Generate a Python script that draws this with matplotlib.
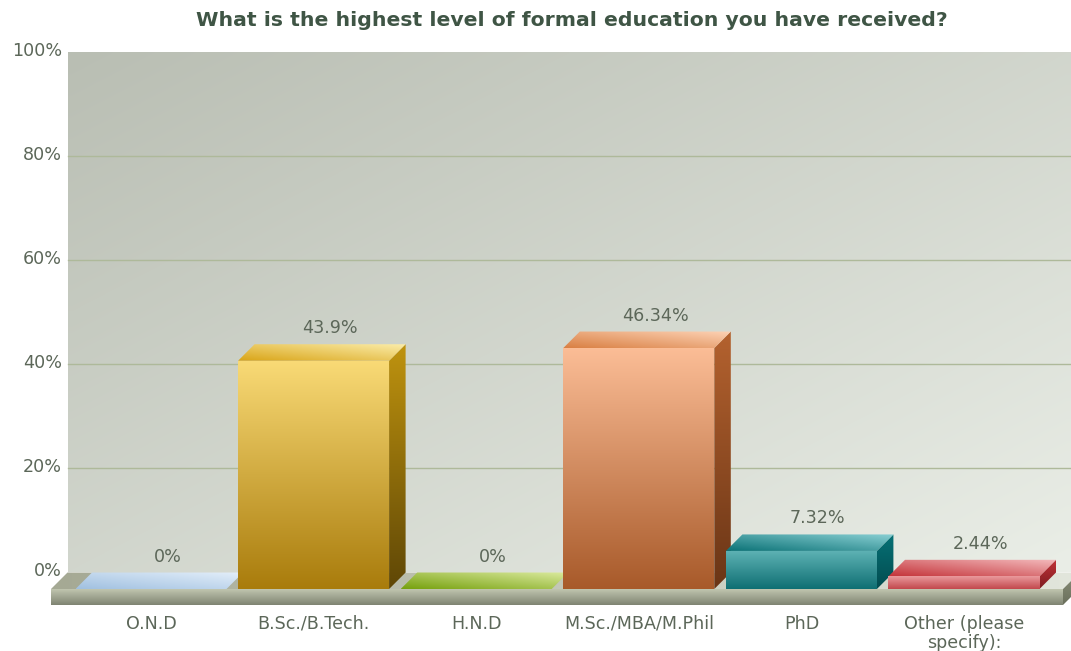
#!/usr/bin/env python3
"""3D-style column chart of survey answers on formal education."""

import matplotlib
matplotlib.use("Agg")
import matplotlib.pyplot as plt
import numpy as np
from matplotlib.colors import to_rgb
from matplotlib.patches import Polygon

plt.rcParams["font.family"] = ["DejaVu Sans"]

categories = ["O.N.D", "B.Sc./B.Tech.", "H.N.D", "M.Sc./MBA/M.Phil", "PhD", "Other (please\nspecify):"]
values = [0, 43.9, 0, 46.34, 7.32, 2.44]
value_labels = ["0%", "43.9%", "0%", "46.34%", "7.32%", "2.44%"]
y_ticks = [0, 20, 40, 60, 80, 100]

# front top, front bottom, side top, side bottom, cap left, cap right
bar_colors = [
    ("#c9dcef", "#a9c6e4", "#8fb0d0", "#7090b0", "#a0c0e0", "#e4effa"),
    ("#f9da76", "#a97c0c", "#bf930f", "#5f4706", "#d9a416", "#fbedaa"),
    ("#bcd67a", "#8fb02a", "#7f9c20", "#5f7a12", "#75a00c", "#dcebA0"),
    ("#fbbd96", "#a85a2a", "#b4622f", "#6a3516", "#d97f42", "#fdd3b6"),
    ("#5fb3b5", "#0f6f73", "#067176", "#034c50", "#0b7276", "#8ad0d4"),
    ("#ea9a9d", "#c2484c", "#c23238", "#7d1c20", "#c4343a", "#f4bcbe"),
]

PX_X = 162.6      # pixels per category
PX_Y = 5.2        # pixels per percentage point
X0 = 151.0        # pixel centre of the first column
Y0 = 589.0        # pixel row of the front floor edge
BAR_W = 151.0 / PX_X
DX = 16.5 / PX_X  # depth offset, data units
DY = 16.5 / PX_Y
WALL_Y = 17.5 / PX_Y  # rise of the back wall above the front plane

TEXT = "#5c6759"
FS = 12.6


def px(x_pix, y_pix):
    return (x_pix - X0) / PX_X, (Y0 - y_pix) / PX_Y


def shaded(ax, pts, start, end, direction="v", zorder=2):
    """Fill a polygon with a linear gradient, clipped to its outline."""
    pts = np.asarray(pts, dtype=float)
    n = 128
    t = np.linspace(0.0, 1.0, n)
    c0, c1 = np.array(to_rgb(start)), np.array(to_rgb(end))
    if direction == "v":
        tt = np.tile(t[:, None], (1, n))
    elif direction == "h":
        tt = np.tile(t[None, :], (n, 1))
    elif direction == "a":
        tt = (t[::-1, None] + t[None, :]) / 2.0
    else:
        tt = (t[:, None] + t[None, :]) / 2.0
    img = c0 + (c1 - c0) * tt[..., None]
    extent = (pts[:, 0].min(), pts[:, 0].max(), pts[:, 1].min(), pts[:, 1].max())
    im = ax.imshow(img, extent=extent, origin="upper", aspect="auto",
                   interpolation="bilinear", zorder=zorder)
    clip = Polygon(pts, closed=True, transform=ax.transData)
    im.set_clip_path(clip)


fig = plt.figure(figsize=(10.71, 6.51), dpi=100)
ax = fig.add_axes([0, 0, 1, 1])
xlim = (px(0, 0)[0], px(1071, 0)[0])
ylim = (px(0, 651)[1], px(0, 0)[1])
ax.axis("off")

# back wall and gridlines
wall_l, wall_r = px(68, 0)[0], px(1071, 0)[0]
shaded(ax, [(wall_l, DY), (wall_r, DY), (wall_r, 100 + WALL_Y), (wall_l, 100 + WALL_Y)],
       "#b9beb3", "#eaeee7", "d", zorder=1)
for t in y_ticks[1:-1]:
    ax.plot([wall_l, wall_r], [t + WALL_Y, t + WALL_Y], color="#aeb99a", lw=1.0, zorder=1.5)
for t in y_ticks:
    ax.text(px(62, 0)[0], t + WALL_Y, f"{t}%", ha="right", va="center",
            fontsize=FS, color=TEXT)

# floor and plinth
fl, fr = px(51, 0)[0], px(1063, 0)[0]
shaded(ax, [(fl, 0), (fr, 0), (fr + DX, DY), (fl + DX, DY)], "#a5a994", "#e2e6dc", "h")
shaded(ax, [(fl, 0), (fr, 0), (fr, -16 / PX_Y), (fl, -16 / PX_Y)], "#c0c5af", "#7f8472", "v", zorder=5)
shaded(ax, [(fr, 0), (fr + DX, DY), (fr + DX, DY - 16 / PX_Y), (fr, -16 / PX_Y)],
       "#8a8f78", "#6a6f5c", "v", zorder=5)

# columns: side, cap, front
for i, (val, label, cols) in enumerate(zip(values, value_labels, bar_colors)):
    left, right = i - BAR_W / 2, i + BAR_W / 2
    front_top, front_bot, side_top, side_bot, cap_l, cap_r = cols
    if val > 0:
        shaded(ax, [(left, 0), (right, 0), (right, val), (left, val)], front_top, front_bot, "v", zorder=4)
        shaded(ax, [(right, 0), (right + DX, DY), (right + DX, val + DY), (right, val)],
               side_top, side_bot, "v", zorder=3)
    shaded(ax, [(left, val), (right, val), (right + DX, val + DY), (left + DX, val + DY)],
           cap_l, cap_r, "a", zorder=3)
    ax.text(i + DX, val + DY + 16 / PX_Y, label, ha="center", va="center",
            fontsize=FS, color=TEXT, zorder=6)
    ax.text(i, -26 / PX_Y, categories[i], ha="center", va="top", fontsize=FS,
            color=TEXT, linespacing=1.05, zorder=6)

ax.text(px(572, 0)[0], px(0, 20)[1], "What is the highest level of formal education you have received?",
        ha="center", va="center", fontsize=14.7, fontweight="bold", color="#3f5545")

ax.set_xlim(*xlim)
ax.set_ylim(*ylim)
fig.savefig("out.png", dpi=100)
